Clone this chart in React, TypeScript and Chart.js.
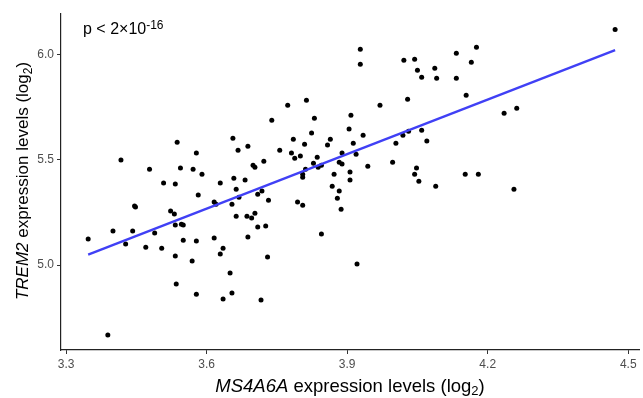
import React, { useEffect, useRef } from "react";
import { Chart, registerables } from "chart.js";

Chart.register(...registerables);

// MS4A6A expression levels (log2)
const ms4a6a = [
  3.417, 3.537, 3.578, 3.478, 3.544, 3.571, 3.59, 3.508, 3.533, 3.582,
  3.446, 3.448, 3.523, 3.531, 3.533, 3.546, 3.55, 3.347, 3.4, 3.442,
  3.489, 3.427, 3.47, 3.504, 3.55, 3.578, 3.533, 3.569, 3.535, 3.578,
  3.389, 3.813, 3.773, 3.739, 3.83, 3.824, 3.656, 3.785, 3.864, 3.858,
  3.809, 3.688, 3.667, 3.756, 3.781, 3.8, 3.788, 3.836, 3.889, 3.722,
  3.699, 3.703, 3.828, 3.845, 3.838, 3.883, 3.889, 3.811, 3.658, 3.682,
  3.629, 3.805, 3.805, 3.872, 3.663, 3.616, 3.62, 3.654, 3.669, 3.709,
  3.718, 3.732, 3.663, 3.686, 3.696, 3.703, 3.709, 3.726, 3.688, 3.616,
  3.635, 3.629, 3.73, 3.65, 3.654, 3.635, 3.716, 3.794, 3.805, 3.845,
  3.868, 3.883, 3.879, 3.887, 3.928, 3.928, 4.021, 4.044, 4.05, 4.059,
  4.087, 4.091, 4.133, 4.176, 4.165, 4.133, 4.154, 4.029, 3.97, 3.908,
  3.904, 3.934, 3.913, 3.919, 4.004, 4.019, 4.031, 4.059, 4.07, 3.997,
  3.944, 4.048, 4.044, 4.053, 3.906, 3.906, 4.152, 4.18, 4.089, 3.921,
  4.472, 4.235, 4.262, 4.256,
];

// TREM2 expression levels (log2)
const trem2 = [
  5.498, 5.583, 5.531, 5.455, 5.46, 5.455, 5.431, 5.389, 5.384, 5.332,
  5.28, 5.275, 5.256, 5.242, 5.19, 5.194, 5.19, 5.123, 5.161, 5.161,
  5.152, 5.1, 5.085, 5.08, 5.118, 5.114, 5.043, 5.019, 4.91, 4.862,
  4.668, 5.782, 5.758, 5.687, 5.697, 5.626, 5.602, 5.597, 5.597, 5.569,
  5.573, 5.564, 5.545, 5.545, 5.531, 5.517, 5.507, 5.512, 5.531, 5.493,
  5.474, 5.464, 5.483, 5.474, 5.464, 5.488, 5.479, 5.455, 5.412, 5.403,
  5.389, 5.431, 5.417, 5.431, 5.36, 5.299, 5.289, 5.289, 5.322, 5.336,
  5.351, 5.308, 5.232, 5.232, 5.223, 5.246, 5.18, 5.185, 5.133, 5.128,
  5.08, 5.052, 5.038, 4.962, 4.867, 4.839, 4.834, 5.299, 5.284, 5.147,
  5.374, 5.351, 5.317, 5.265, 6.024, 5.953, 5.972, 5.976, 5.924, 5.891,
  5.934, 5.886, 6.005, 6.033, 5.962, 5.886, 5.806, 5.787, 5.758, 5.711,
  5.645, 5.616, 5.578, 5.526, 5.578, 5.616, 5.635, 5.64, 5.588, 5.488,
  5.469, 5.46, 5.431, 5.398, 5.441, 5.403, 5.431, 5.431, 5.374, 5.005,
  6.118, 5.72, 5.744, 5.36,
];

const xTicks = [3.3, 3.6, 3.9, 4.2, 4.5];
const yTicks = [5.0, 5.5, 6.0];
const pText = "p < 2×10";
const pExponent = "-16";

const FONT = "'Liberation Sans', Arial, Helvetica, sans-serif";

function fitLine(xs: number[], ys: number[]) {
  const n = xs.length;
  const mx = xs.reduce((a, b) => a + b, 0) / n;
  const my = ys.reduce((a, b) => a + b, 0) / n;
  let sxy = 0;
  let sxx = 0;
  for (let i = 0; i < n; i++) {
    sxy += (xs[i] - mx) * (ys[i] - my);
    sxx += (xs[i] - mx) * (xs[i] - mx);
  }
  const slope = sxy / sxx;
  return { slope, intercept: my - slope * mx };
}

type Seg = { t: string; italic?: boolean; size: number; dy?: number };

function drawSegs(ctx: CanvasRenderingContext2D, segs: Seg[], startX: number, baseY: number) {
  let x = startX;
  for (const s of segs) {
    ctx.font = `${s.italic ? "italic " : ""}${s.size}px ${FONT}`;
    ctx.fillText(s.t, x, baseY + (s.dy || 0));
    x += ctx.measureText(s.t).width;
  }
}

function segsWidth(ctx: CanvasRenderingContext2D, segs: Seg[]) {
  let w = 0;
  for (const s of segs) {
    ctx.font = `${s.italic ? "italic " : ""}${s.size}px ${FONT}`;
    w += ctx.measureText(s.t).width;
  }
  return w;
}

const titlesPlugin = {
  id: "customTitles",
  afterDraw(chart: any) {
    const ctx: CanvasRenderingContext2D = chart.ctx;
    const area = chart.chartArea;
    ctx.save();
    ctx.fillStyle = "#000";
    ctx.textBaseline = "alphabetic";
    ctx.textAlign = "left";

    const xSegs: Seg[] = [
      { t: "MS4A6A", italic: true, size: 18.5 },
      { t: " expression levels (log", size: 18.5 },
      { t: "2", size: 13, dy: 3.5 },
      { t: ")", size: 18.5 },
    ];
    const xw = segsWidth(ctx, xSegs);
    drawSegs(ctx, xSegs, (area.left + area.right) / 2 - xw / 2, 391.5);

    const ySegs: Seg[] = [
      { t: "TREM2", italic: true, size: 17 },
      { t: " expression levels (log", size: 17 },
      { t: "2", size: 12, dy: 3.5 },
      { t: ")", size: 17 },
    ];
    const yw = segsWidth(ctx, ySegs);
    ctx.save();
    ctx.translate(28, (area.top + area.bottom) / 2 - 1);
    ctx.rotate(-Math.PI / 2);
    drawSegs(ctx, ySegs, -yw / 2, 0);
    ctx.restore();

    const pSegs: Seg[] = [
      { t: pText, size: 16 },
      { t: pExponent, size: 12, dy: -4.5 },
    ];
    drawSegs(ctx, pSegs, 83, 33.5);
    ctx.restore();
  },
};

export default function App() {
  const ref = useRef<HTMLCanvasElement>(null);

  useEffect(() => {
    document.body.style.margin = "0";
    if (!ref.current) return;
    const points = ms4a6a.map((x, i) => ({ x, y: trem2[i] }));
    const { slope, intercept } = fitLine(ms4a6a, trem2);
    const x0 = Math.min(...ms4a6a);
    const x1 = Math.max(...ms4a6a);
    const line = [
      { x: x0, y: intercept + slope * x0 },
      { x: x1, y: intercept + slope * x1 },
    ];

    const chart = new Chart(ref.current, {
      type: "scatter",
      data: {
        datasets: [
          {
            type: "line",
            data: line,
            borderColor: "#4040f5",
            borderWidth: 2.4,
            pointRadius: 0,
            fill: false,
            order: 0,
          } as any,
          {
            data: points,
            backgroundColor: "#000",
            borderColor: "#000",
            pointRadius: 2.5,
            borderWidth: 0,
            order: 1,
          },
        ],
      },
      options: {
        responsive: false,
        animation: false,
        layout: { padding: { top: 14, right: 0, left: 0, bottom: 0 } },
        plugins: {
          legend: { display: false },
          tooltip: { enabled: false },
        },
        scales: {
          x: {
            type: "linear",
            min: 3.289,
            max: 4.523,
            afterBuildTicks: (s: any) => {
              s.ticks = xTicks.map((v) => ({ value: v }));
            },
            afterFit: (s: any) => {
              s.height = 48;
            },
            ticks: {
              color: "#4d4d4d",
              font: { family: FONT, size: 12 },
              padding: 3,
              maxRotation: 0,
              callback: (v: any) => Number(v).toFixed(1),
            },
            grid: {
              drawOnChartArea: false,
              drawTicks: true,
              tickLength: 4,
              tickColor: "#333",
              tickWidth: 1,
            },
            border: { display: true, color: "#222", width: 1.2 },
          },
          y: {
            type: "linear",
            min: 4.597,
            max: 6.191,
            afterBuildTicks: (s: any) => {
              s.ticks = yTicks.map((v) => ({ value: v }));
            },
            afterFit: (s: any) => {
              s.width = 61;
            },
            ticks: {
              color: "#4d4d4d",
              font: { family: FONT, size: 12 },
              padding: 3,
              callback: (v: any) => Number(v).toFixed(1),
            },
            grid: {
              drawOnChartArea: false,
              drawTicks: true,
              tickLength: 4,
              tickColor: "#333",
              tickWidth: 1,
            },
            border: { display: true, color: "#222", width: 1.2 },
          },
        },
      },
      plugins: [titlesPlugin],
    });
    return () => chart.destroy();
  }, []);

  return (
    <div style={{ width: 643, height: 398, background: "#fff" }}>
      <canvas ref={ref} width={643} height={398} />
    </div>
  );
}
